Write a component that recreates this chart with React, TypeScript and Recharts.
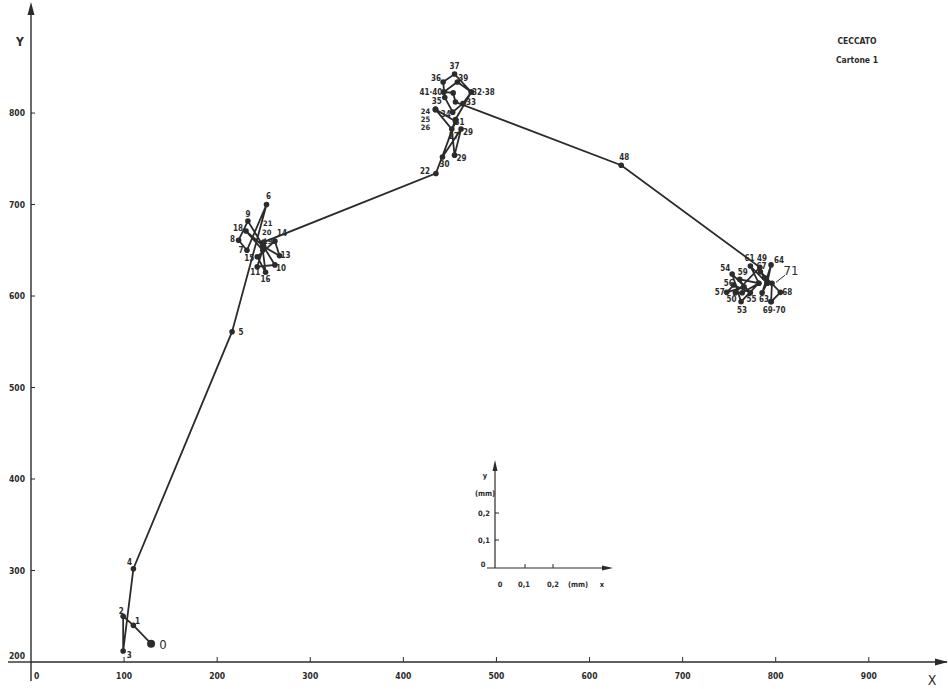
import React from "react";
import { LineChart, Line, XAxis, YAxis, LabelList } from "recharts";

// Trajectory points, in drawing order (label "" = vertex with no number printed)
const POINT_LABELS = [
  "0", "1", "2", "3", "4", "5",
  "6", "7", "8", "9", "10", "11", "", "13", "14", "15", "16", "", "18", "19", "20", "21",
  "22", "", "24", "25", "26", "27", "29", "29", "30", "31", "32·38", "33", "34", "35",
  "36", "37", "", "39", "41·40", "", "", "",
  "48", "49", "50", "", "", "53", "54", "55", "56", "57", "", "59", "", "61", "",
  "63", "64", "", "", "67", "68", "69·70", "", "71",
];

const POINT_X = [
  129, 110, 99, 99, 110, 216,
  253, 232, 223, 233, 262, 243, 250, 267, 262, 243, 252, 249, 231, 249, 249, 250,
  435, 456, 434.5, 434.5, 434.5, 452, 455, 462, 442, 456, 473, 464, 453, 444.5,
  442.7, 455, 473, 458, 443.4, 443.4, 453.5, 456,
  634, 783, 756.7, 764, 781.8, 762.8, 753.2, 772.8, 755, 747.3, 766, 761.3, 781.8, 772.8, 790.8,
  785.4, 795, 790.8, 788, 783.6, 805, 795, 795, 796,
];

const POINT_Y = [
  220, 240, 250, 212, 302, 561,
  700, 650, 661, 682, 634, 632, 654, 644, 660, 643, 626, 650, 671, 655, 657, 659,
  734, 791, 804, 804, 804, 782.5, 754, 782.5, 752, 793, 823, 810.5, 801, 817,
  834, 842.6, 823, 834, 823, 823, 822, 812,
  743, 631.4, 603.6, 603.6, 614, 593.8, 624, 603.6, 612, 604, 610, 618.3, 614, 632.8, 614,
  603.6, 634, 614, 620, 626.6, 604, 593.8, 593.8, 614,
];

const X_TICKS = [0, 100, 200, 300, 400, 500, 600, 700, 800, 900];
const Y_TICKS = [200, 300, 400, 500, 600, 700, 800];

// where each number sits relative to its dot (px)
const LABEL_OFFSETS: Record<string, [number, number]> = {
  "0": [12, 1], "1": [4, -4], "2": [-2, -5], "3": [6, 4], "4": [-4, -6], "5": [9, 1],
  "6": [2, -8], "7": [-6, 0], "8": [-6, -1], "9": [0, -7], "10": [6, 4], "11": [-2, 6],
  "13": [6, 0], "14": [7, -8], "15": [-8, 2], "16": [0, 7], "18": [-8, -3],
  "19": [5, -4], "20": [4, -11], "21": [4, -19],
  "22": [-11, -2], "24": [-10, 2], "25": [-10, 10], "26": [-10, 18], "27": [2, 7],
  "29": [7, 3], "30": [2, 8], "31": [4, 3], "32·38": [12, 0], "33": [8, -1],
  "34": [-7, 2], "35": [-8, 4], "36": [-7, -3], "37": [0, -8], "39": [6, -3],
  "41·40": [-13, 0], "48": [3, -8], "49": [2, -9], "50": [-4, 7], "53": [1, 9],
  "54": [-7, -6], "55": [1, 7], "56": [-5, -2], "57": [-7, 0], "59": [3, -7],
  "61": [-1, -8], "63": [2, 7], "64": [8, -4], "67": [1, -5], "68": [7, 0],
  "69·70": [3, 9], "71": [19, -13],
};

const INK = "#2b2b2b";
const FONT = '"DejaVu Sans Condensed", "Liberation Sans Narrow", "DejaVu Sans", sans-serif';

const rows = POINT_X.map((x, i) => ({ x, y: POINT_Y[i], label: POINT_LABELS[i] }));

const XTick = (props: any) => {
  const { x, y, payload } = props;
  const v = payload.value;
  if (v === 0) {
    return (
      <text x={x + 3} y={y + 17} fontSize={8.5} fontFamily={FONT} fontWeight={600} fill={INK}>
        0
      </text>
    );
  }
  return (
    <g>
      <line x1={x} x2={x} y1={y} y2={y - 5} stroke={INK} strokeWidth={1} />
      <text x={x} y={y + 17} textAnchor="middle" fontSize={8.5} fontFamily={FONT} fontWeight={600} fill={INK}>
        {v}
      </text>
    </g>
  );
};

const YTick = (props: any) => {
  const { x, y, payload } = props;
  const v = payload.value;
  if (v === 200) {
    return (
      <text x={x - 6} y={y - 3} textAnchor="end" fontSize={8.5} fontFamily={FONT} fontWeight={600} fill={INK}>
        200
      </text>
    );
  }
  return (
    <g>
      <line x1={x} x2={x + 4} y1={y} y2={y} stroke={INK} strokeWidth={1} />
      <text x={x - 6} y={y + 3} textAnchor="end" fontSize={8.5} fontFamily={FONT} fontWeight={600} fill={INK}>
        {v}
      </text>
    </g>
  );
};

const renderDot = (p: any) => {
  const { cx, cy, index, payload } = p;
  const r = payload.label === "0" ? 4 : 2.8;
  return <circle key={`d${index}`} cx={cx} cy={cy} r={r} fill={INK} />;
};

const renderLabel = (p: any) => {
  const { x, y, value, index } = p;
  if (!value) return null;
  const [dx, dy] = LABEL_OFFSETS[value] ?? [6, -6];
  const big = value === "0" || value === "71";
  const stacked = ["24", "25", "26", "19", "20", "21"].includes(value);
  return (
    <g key={`l${index}`}>
      {value === "71" && (
        <line x1={x + 4} y1={y - 1} x2={x + 13} y2={y - 8} stroke={INK} strokeWidth={1} />
      )}
      <text
        x={x + dx}
        y={y + dy}
        textAnchor="middle"
        dominantBaseline="central"
        fontSize={big ? 13 : stacked ? 7.5 : 8}
        fontFamily={FONT}
        fontWeight={big ? 500 : 600}
        fill={INK}
      >
        {value}
      </text>
    </g>
  );
};

const small = { fontSize: 7.5, fontFamily: FONT, fontWeight: 600, fill: INK } as const;

// scale inset, axis arrows and captions
const Overlay = () => (
  <svg width={948} height={689} style={{ position: "absolute", left: 0, top: 0, pointerEvents: "none" }}>
    {/* main axes extensions + arrows */}
    <line x1={8} y1={662} x2={31} y2={662} stroke={INK} strokeWidth={1.4} />
    <line x1={31} y1={662} x2={31} y2={681} stroke={INK} strokeWidth={1.4} />
    <polygon points="31,2 27.5,15 34.5,15" fill={INK} />
    <polygon points="948,662 935,658.5 935,665.5" fill={INK} />
    <text x={20} y={46} textAnchor="middle" fontSize={12} fontFamily={FONT} fontWeight={600} fill={INK}>Y</text>
    <text x={932} y={685} textAnchor="middle" fontSize={14} fontFamily={FONT} fill={INK}>X</text>

    {/* title */}
    <text x={857} y={44} textAnchor="middle" fontSize={8.5} fontFamily={FONT} fontWeight={600} fill={INK}>CECCATO</text>
    <text x={857} y={63} textAnchor="middle" fontSize={8.5} fontFamily={FONT} fontWeight={600} fill={INK}>Cartone 1</text>

    {/* mm scale inset */}
    <line x1={495} y1={568} x2={495} y2={470} stroke={INK} strokeWidth={1.2} />
    <polygon points="495,460 492.5,471 497.5,471" fill={INK} />
    <line x1={487} y1={568} x2={603} y2={568} stroke={INK} strokeWidth={1.2} />
    <polygon points="613,568 602,565.5 602,570.5" fill={INK} />
    <line x1={495} y1={513} x2={499} y2={513} stroke={INK} strokeWidth={1} />
    <line x1={495} y1={540} x2={499} y2={540} stroke={INK} strokeWidth={1} />
    <line x1={525} y1={564} x2={525} y2={568} stroke={INK} strokeWidth={1} />
    <line x1={553} y1={564} x2={553} y2={568} stroke={INK} strokeWidth={1} />
    <text x={485} y={478} textAnchor="middle" {...small}>y</text>
    <text x={485} y={496} textAnchor="middle" {...small}>(mm)</text>
    <text x={484} y={516} textAnchor="middle" {...small}>0,2</text>
    <text x={484} y={543} textAnchor="middle" {...small}>0,1</text>
    <text x={483} y={567} textAnchor="middle" {...small}>0</text>
    <text x={500} y={587} textAnchor="middle" {...small}>0</text>
    <text x={524} y={587} textAnchor="middle" {...small}>0,1</text>
    <text x={553} y={587} textAnchor="middle" {...small}>0,2</text>
    <text x={578} y={587} textAnchor="middle" {...small}>(mm)</text>
    <text x={602} y={587} textAnchor="middle" {...small}>x</text>
  </svg>
);

export default function App() {
  return (
    <div style={{ position: "absolute", left: 0, top: 0, width: 948, height: 689, background: "#fff" }}>
      <LineChart width={948} height={689} data={rows} margin={{ top: 6, right: 1, bottom: 0, left: 0 }}>
        <XAxis
          type="number"
          dataKey="x"
          domain={[0, 984]}
          ticks={X_TICKS}
          interval={0}
          height={27}
          tickSize={0}
          tickMargin={0}
          tickLine={false}
          axisLine={{ stroke: INK, strokeWidth: 1.4 }}
          tick={XTick}
        />
        <YAxis
          type="number"
          domain={[200, 917]}
          ticks={Y_TICKS}
          interval={0}
          width={31}
          tickSize={0}
          tickMargin={0}
          tickLine={false}
          axisLine={{ stroke: INK, strokeWidth: 1.4 }}
          tick={YTick}
        />
        <Line
          dataKey="y"
          type="linear"
          stroke={INK}
          strokeWidth={1.8}
          dot={renderDot}
          activeDot={false}
          isAnimationActive={false}
        >
          <LabelList dataKey="label" content={renderLabel} />
        </Line>
      </LineChart>
      <Overlay />
    </div>
  );
}
